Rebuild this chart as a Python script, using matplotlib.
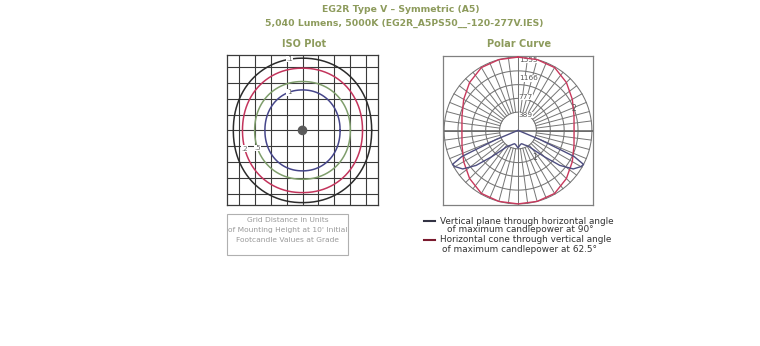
import numpy as np
import matplotlib
matplotlib.use("Agg")
import matplotlib.pyplot as plt
from matplotlib.lines import Line2D

W, H = 760, 346

title1 = "EG2R Type V \u2013 Symmetric (A5)"
title2 = "5,040 Lumens, 5000K (EG2R_A5PS50__-120-277V.IES)"

# ISO plot: footcandle contours (grid units of mounting height)
iso_levels = [".1", ".2", ".5", "1"]
iso_rx = [4.38, 3.80, 3.03, 2.38]
iso_ry = [4.55, 3.92, 3.08, 2.55]
iso_colors = ["#2b2b2b", "#c3345c", "#7f9e6c", "#45458a"]
iso_label_deg = [100, 196, 200, 110]

# polar curve: vertical plane (deg from nadir -> candela)
vp_deg = [0, 5, 10, 15, 20, 25, 30, 35, 40, 45, 50, 55, 60, 62.5, 65, 67.5, 70, 75, 90]
vp_cd = [370, 330, 300, 290, 310, 340, 370, 430, 560, 790, 1150, 1420, 1530, 1555, 1300, 500, 50, 10, 0]

# horizontal cone at 62.5 deg (horizontal angle -> candela)
hc_deg = list(range(0, 361, 15))
hc_cd = [1555, 1555, 1540, 1440, 1320, 1220, 1180, 1220, 1320, 1440, 1540, 1555,
         1555, 1555, 1540, 1440, 1320, 1220, 1180, 1220, 1320, 1440, 1540, 1555, 1555]

cd_max = 1555
ring_labels = [389, 777, 1166, 1555]

olive = "#8d9b5c"
hfont = {"family": "DejaVu Sans", "fontweight": "bold"}


def fx(x):
    return x / W


def fy(y):
    return 1 - y / H


fig = plt.figure(figsize=(W / 100, H / 100), dpi=100)

fig.text(fx(401), fy(9), title1, ha="center", va="center", color=olive, fontsize=6.7, **hfont)
fig.text(fx(404), fy(23), title2, ha="center", va="center", color=olive, fontsize=6.7, **hfont)
fig.text(fx(304), fy(44), "ISO Plot", ha="center", va="center", color=olive, fontsize=7, **hfont)
fig.text(fx(519), fy(44), "Polar Curve", ha="center", va="center", color=olive, fontsize=7, **hfont)

# ---- ISO plot
ax = fig.add_axes([fx(227), fy(205), 151 / W, 150 / H])
ax.set_xlim(-4.78, 4.78)
ax.set_ylim(-4.7, 4.75)
ax.set_xticks(range(-4, 5))
ax.set_yticks(range(-4, 5))
ax.grid(True, color="#3a3a3a", lw=0.8)
ax.tick_params(length=0, labelbottom=False, labelleft=False)
for s in ax.spines.values():
    s.set_color("#3a3a3a")
    s.set_linewidth(0.9)

t = np.linspace(0, 2 * np.pi, 200)
n = 2.1
for lab, rx, ry, c, d in zip(iso_levels, iso_rx, iso_ry, iso_colors, iso_label_deg):
    ct, st = np.cos(t), np.sin(t)
    x = rx * np.sign(ct) * np.abs(ct) ** (2 / n)
    y = ry * np.sign(st) * np.abs(st) ** (2 / n)
    ax.plot(x, y, color=c, lw=1.1, zorder=3)
    a = np.radians(d)
    lx = rx * np.sign(np.cos(a)) * abs(np.cos(a)) ** (2 / n)
    ly = ry * np.sign(np.sin(a)) * abs(np.sin(a)) ** (2 / n)
    ax.text(lx, ly, lab, ha="center", va="center", fontsize=5, color="#666666", zorder=4,
            bbox=dict(fc="white", ec="none", pad=0.2))
ax.add_patch(plt.Circle((0, 0), 0.26, color="#5a5a5a", zorder=5))

# footnote box
fig.patches.append(plt.Rectangle((fx(227), fy(255)), 121 / W, 41 / H, transform=fig.transFigure,
                                 fill=False, ec="#b0b0b0", lw=0.8))
for yy, line in zip([220, 230, 240], ["Grid Distance in Units",
                                       "of Mounting Height at 10' Initial",
                                       "Footcandle Values at Grade"]):
    fig.text(fx(287.5), fy(yy), line, ha="center", va="center", fontsize=5.4, color="#9a9a9a")

# ---- polar curve
px = fig.add_axes([fx(443), fy(205), 150 / W, 149 / H])
lim = cd_max * 1.015
px.set_xlim(-lim, lim)
px.set_ylim(-lim, lim)
px.set_xticks([])
px.set_yticks([])
for s in px.spines.values():
    s.set_color("#808080")
    s.set_linewidth(0.9)

grid_c = "#757575"
r_in = cd_max / 4
for r in np.linspace(r_in, cd_max, 5):
    px.plot(r * np.cos(t), r * np.sin(t), color=grid_c, lw=0.75)
for a in np.arange(0, 360, 7.5):
    ar = np.radians(a)
    px.plot([r_in * np.cos(ar), cd_max * np.cos(ar)], [r_in * np.sin(ar), cd_max * np.sin(ar)],
            color=grid_c, lw=0.7)
px.axhline(0, color="#6a6a6a", lw=1.2)
px.axvline(0, color=grid_c, lw=0.75)
for v in ring_labels:
    px.text(cd_max * 0.01, v, str(v), ha="left", va="top", fontsize=5.3, color="#555555",
            bbox=dict(fc="white", ec="none", pad=0.1))

# horizontal cone (red)
hr = np.radians(hc_deg)
hcd = np.array(hc_cd)
px.plot(hcd * np.sin(hr), hcd * np.cos(hr), color="#c8385c", lw=1.0, zorder=4)

# vertical plane (blue), both sides of nadir
vd = np.radians(np.concatenate([-np.array(vp_deg)[::-1], np.array(vp_deg)[1:]]))
vc = np.concatenate([np.array(vp_cd)[::-1], np.array(vp_cd)[1:]])
px.plot(vc * np.sin(vd), -vc * np.cos(vd), color="#4e4e80", lw=1.0, zorder=4)

px.text(1185, 470, "2", fontsize=5.5, color="#555555", ha="center", va="center", zorder=5)
px.text(355, -570, "1", fontsize=5.5, color="#555555", ha="center", va="center", zorder=5)

# legend
fig.add_artist(Line2D([fx(424), fx(435)], [fy(221), fy(221)], color="#333344", lw=1.5))
fig.add_artist(Line2D([fx(424), fx(435)], [fy(240), fy(240)], color="#7a1a2e", lw=1.5))
fig.text(fx(440), fy(221), "Vertical plane through horizontal angle", ha="left", va="center",
         fontsize=6.4, color="#333333")
fig.text(fx(520), fy(230), "of maximum candlepower at 90\u00b0", ha="center", va="center",
         fontsize=6.4, color="#333333")
fig.text(fx(440), fy(240), "Horizontal cone through vertical angle", ha="left", va="center",
         fontsize=6.4, color="#333333")
fig.text(fx(520), fy(249), "of maximum candlepower at 62.5\u00b0", ha="center", va="center",
         fontsize=6.4, color="#333333")

fig.savefig("out.png", dpi=100)
